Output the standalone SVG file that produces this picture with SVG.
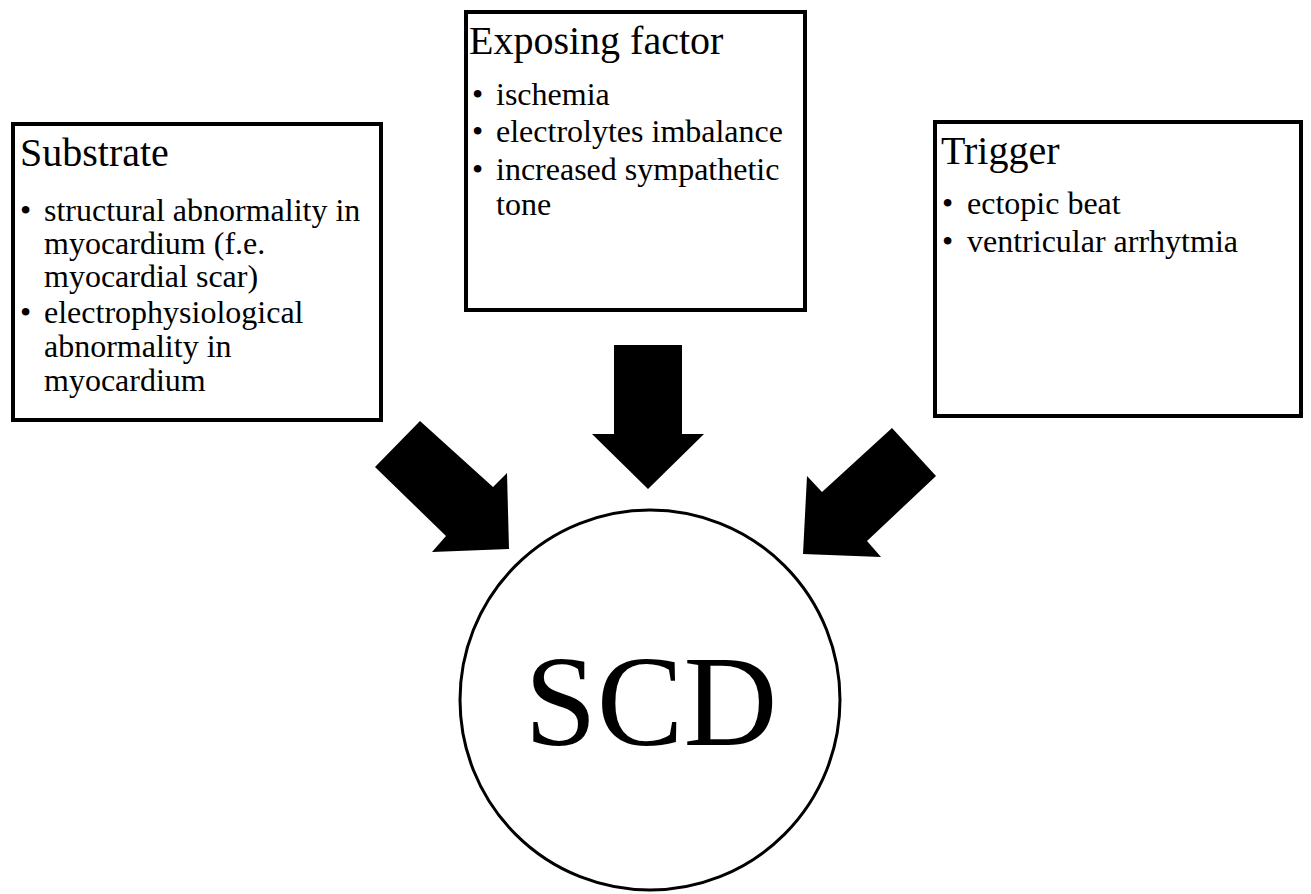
<svg xmlns="http://www.w3.org/2000/svg" width="1311" height="894" viewBox="0 0 1311 894">
<style>
.box{fill:#fff;stroke:#000;stroke-width:4}
text{font-family:'Liberation Serif','Times New Roman',Times,serif;fill:#000}
.title{font-size:40px}
.item{font-size:32px}
.arrow{fill:#000;stroke:none}
</style>
<rect width="1311" height="894" fill="#fff"/>
<g font-family="Liberation Serif, Times New Roman, Times, serif">
<g id="substrate">
<rect class="box" x="13" y="124" width="368" height="296"/>
<text class="title" x="20" y="166">Substrate</text>
<text class="item" x="20" y="221">•</text>
<text class="item" x="44" y="221">structural abnormality in</text>
<text class="item" x="44" y="254">myocardium (f.e.</text>
<text class="item" x="44" y="287">myocardial scar)</text>
<text class="item" x="20" y="323">•</text>
<text class="item" x="44" y="323">electrophysiological</text>
<text class="item" x="44" y="357">abnormality in</text>
<text class="item" x="44" y="391">myocardium</text>
</g>
<g id="exposing">
<rect class="box" x="466" y="12" width="339" height="298"/>
<text class="title" x="469" y="54">Exposing factor</text>
<text class="item" x="472" y="105">•</text>
<text class="item" x="496" y="105">ischemia</text>
<text class="item" x="472" y="142">•</text>
<text class="item" x="496" y="142">electrolytes imbalance</text>
<text class="item" x="472" y="180">•</text>
<text class="item" x="496" y="180">increased sympathetic</text>
<text class="item" x="496" y="215">tone</text>
</g>
<g id="trigger">
<rect class="box" x="935" y="122" width="366" height="294"/>
<text class="title" x="941" y="164">Trigger</text>
<text class="item" x="942" y="214">•</text>
<text class="item" x="967" y="214">ectopic beat</text>
<text class="item" x="942" y="252">•</text>
<text class="item" x="967" y="252">ventricular arrhytmia</text>
</g>
<g id="scd">
<circle cx="650" cy="700" r="190" fill="#fff" stroke="#000" stroke-width="3"/>
<text x="651" y="745" font-size="130" text-anchor="middle">SCD</text>
</g>
</g>
<g id="connectors">
<polygon class="arrow" points="614,345 682,345 682,434 704,434 648,489 592,434 614,434"/>
<polygon class="arrow" points="420,421 493,487 507,473 509,549 432,552 446,536 375,467"/>
<polygon class="arrow" points="892,428 936,476 867,541 881,557 803,554 807,476 822,492"/>
</g>
</svg>
